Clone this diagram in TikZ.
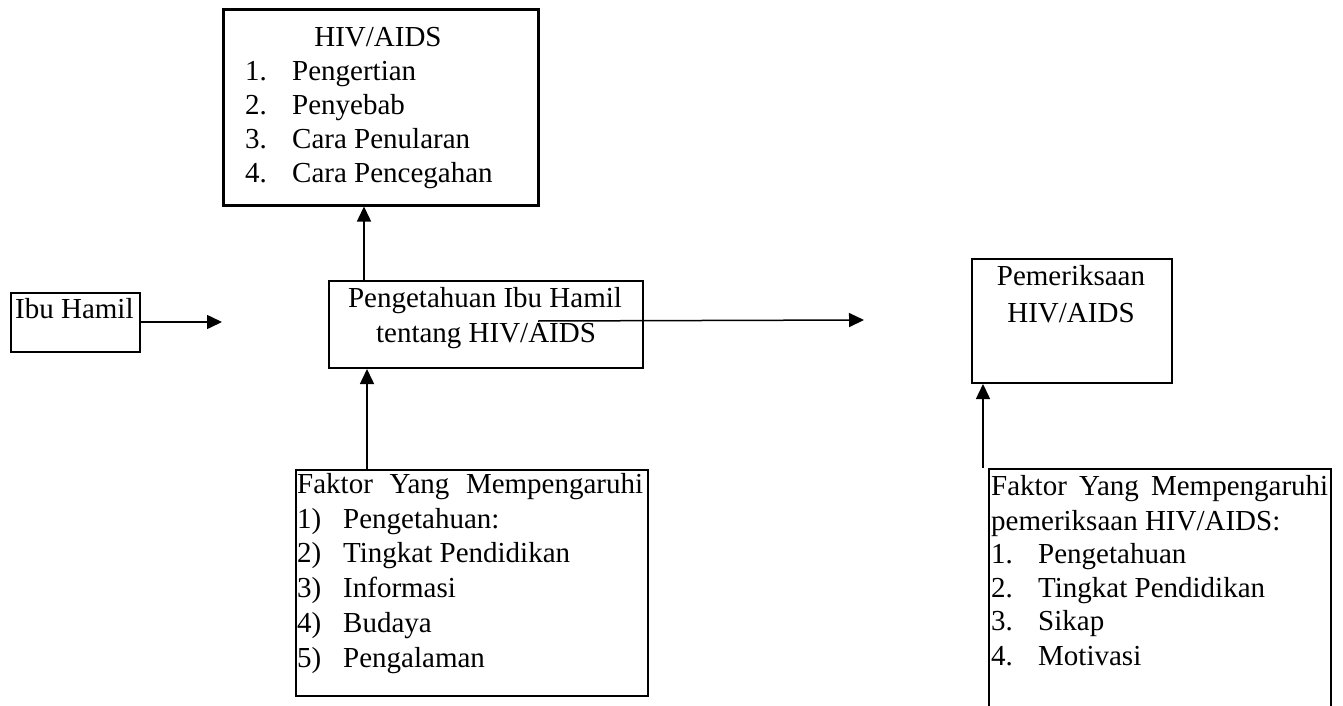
\documentclass[tikz,border=0pt]{standalone}
\usepackage{fontspec}
\setmainfont{Liberation Serif}
\usetikzlibrary{arrows.meta}
\begin{document}
\begin{tikzpicture}[x=1pt,y=-1pt,
  box/.style={draw, line width=2pt, inner sep=0pt, anchor=north west},
  txt/.style={inner sep=0pt, anchor=base west, font=\fontsize{29}{34}\selectfont},
  ctxt/.style={inner sep=0pt, anchor=base, font=\fontsize{29}{34}\selectfont},
  arr/.style={line width=1.5pt, -{Triangle[length=15pt,width=14pt]}}]
\useasboundingbox (0,0) rectangle (1343,706);
\clip (0,0) rectangle (1343,706);
% boxes
\node[box, line width=3pt, minimum width=315pt, minimum height=195pt] (hiv) at (222,8.5) {};
\node[box, minimum width=129pt, minimum height=59pt] (ibu) at (10,292) {};
\node[box, minimum width=314pt, minimum height=87pt] (mid) at (328,280) {};
\node[box, minimum width=200pt, minimum height=124pt] (periksa) at (971,258) {};
\node[box, minimum width=352pt, minimum height=226pt] (fak1) at (295,469) {};
\node[box, minimum width=342pt, minimum height=270pt] (fak2) at (988,468) {};
% top box text
\node[ctxt] (h0) at (378,47) {HIV/AIDS};
\node[txt] (h1n) at (245,81) {1.};
\node[txt] (h1) at (292,81) {Pengertian};
\node[txt] (h2n) at (245,115) {2.};
\node[txt] (h2) at (292,115) {Penyebab};
\node[txt] (h3n) at (245,148) {3.};
\node[txt] (h3) at (292,148) {Cara Penularan};
\node[txt] (h4n) at (245,182) {4.};
\node[txt] (h4) at (292,182) {Cara Pencegahan};
% ibu hamil
\node[txt] (ibut) at (15,318) {Ibu Hamil};
% middle
\node[ctxt] (m1) at (485,307) {Pengetahuan Ibu Hamil};
\node[ctxt] (m2) at (486,342) {tentang HIV/AIDS};
% pemeriksaan
\node[ctxt] (p1) at (1071,285) {Pemeriksaan};
\node[ctxt] (p2) at (1071,322) {HIV/AIDS};
% faktor 1
\node[txt] (f0) at (297,493) {\makebox[346pt][s]{Faktor Yang Mempengaruhi}};
\node[txt] (f1n) at (297,528) {1)};
\node[txt] (f1) at (343,528) {Pengetahuan:};
\node[txt] (f2n) at (297,562) {2)};
\node[txt] (f2) at (343,562) {Tingkat Pendidikan};
\node[txt] (f3n) at (297,597) {3)};
\node[txt] (f3) at (343,597) {Informasi};
\node[txt] (f4n) at (297,632) {4)};
\node[txt] (f4) at (343,632) {Budaya};
\node[txt] (f5n) at (297,667) {5)};
\node[txt] (f5) at (343,667) {Pengalaman};
% faktor 2
\node[txt] (g0) at (991,495) {\makebox[337pt][s]{Faktor Yang Mempengaruhi}};
\node[txt] (g0b) at (991,530) {pemeriksaan HIV/AIDS:};
\node[txt] (g1n) at (991,563) {1.};
\node[txt] (g1) at (1038,563) {Pengetahuan};
\node[txt] (g2n) at (991,597) {2.};
\node[txt] (g2) at (1038,597) {Tingkat Pendidikan};
\node[txt] (g3n) at (991,630) {3.};
\node[txt] (g3) at (1038,630) {Sikap};
\node[txt] (g4n) at (991,665) {4.};
\node[txt] (g4) at (1038,665) {Motivasi};
% connectors
\coordinate (a1) at (222,322);
\draw[arr] (ibu.east |- a1) -- (a1);
\coordinate (a2) at (864,320);
\draw[arr] ([shift={(52,-3.5)}]mid.center) -- (a2);
\coordinate (c1) at (364,0);
\draw[arr] (mid.north -| c1) -- (hiv.south -| c1);
\coordinate (c2) at (367,0);
\draw[arr] (fak1.north -| c2) -- (mid.south -| c2);
\coordinate (c3) at (983,0);
\draw[arr] (fak2.north -| c3) -- (periksa.south -| c3);
\end{tikzpicture}
\end{document}
